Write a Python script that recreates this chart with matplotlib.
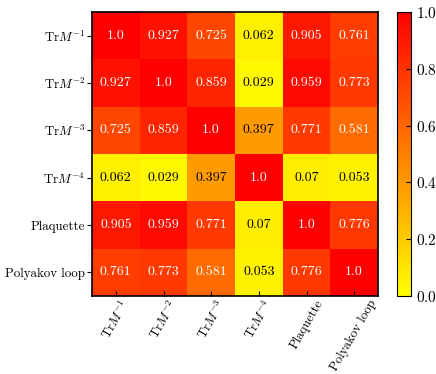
import numpy as np
import matplotlib
matplotlib.use('Agg')
import matplotlib.pyplot as plt

plt.rcParams['font.family'] = 'serif'
plt.rcParams['font.serif'] = ['cmr10']
plt.rcParams['mathtext.fontset'] = 'cm'
plt.rcParams['axes.unicode_minus'] = False
plt.rcParams['axes.formatter.use_mathtext'] = True

labels = [r'Tr$M^{-1}$', r'Tr$M^{-2}$', r'Tr$M^{-3}$', r'Tr$M^{-4}$', 'Plaquette', 'Polyakov loop']
corr = np.array([
	[1.0, 0.927, 0.725, 0.062, 0.905, 0.761],
	[0.927, 1.0, 0.859, 0.029, 0.959, 0.773],
	[0.725, 0.859, 1.0, 0.397, 0.771, 0.581],
	[0.062, 0.029, 0.397, 1.0, 0.07, 0.053],
	[0.905, 0.959, 0.771, 0.07, 1.0, 0.776],
	[0.761, 0.773, 0.581, 0.053, 0.776, 1.0],
])

fig = plt.figure(figsize=(4.36, 3.74), dpi=100)
ax = fig.add_axes([92/436, 1 - 296/374, 286/436, 284/374])
cax = fig.add_axes([397/436, 1 - 296/374, 14/436, 284/374])

im = ax.imshow(corr, cmap='autumn_r', vmin=0, vmax=1, aspect='auto')
n = len(labels)
for i in range(n):
	for j in range(n):
		c = 'white' if corr[i, j] > 0.5 else 'black'
		ax.text(j, i, str(corr[i, j]), ha='center', va='center', color=c, fontsize=10)

ax.set_xticks(range(n))
ax.set_yticks(range(n))
ax.set_xticklabels(labels, rotation=60, ha='center', fontsize=9.3)
ax.set_yticklabels(labels, fontsize=9.3)
ax.tick_params(axis='x', direction='in', length=3.5, pad=1.5)
ax.tick_params(axis='y', direction='out', length=3.5, pad=1.5)
for s in ax.spines.values():
	s.set_linewidth(1.2)

cb = fig.colorbar(im, cax=cax)
cb.set_ticks([0, 0.2, 0.4, 0.6, 0.8, 1.0])
cb.ax.tick_params(direction='in', length=3.5, labelsize=11)

fig.savefig('out.png', dpi=100)
